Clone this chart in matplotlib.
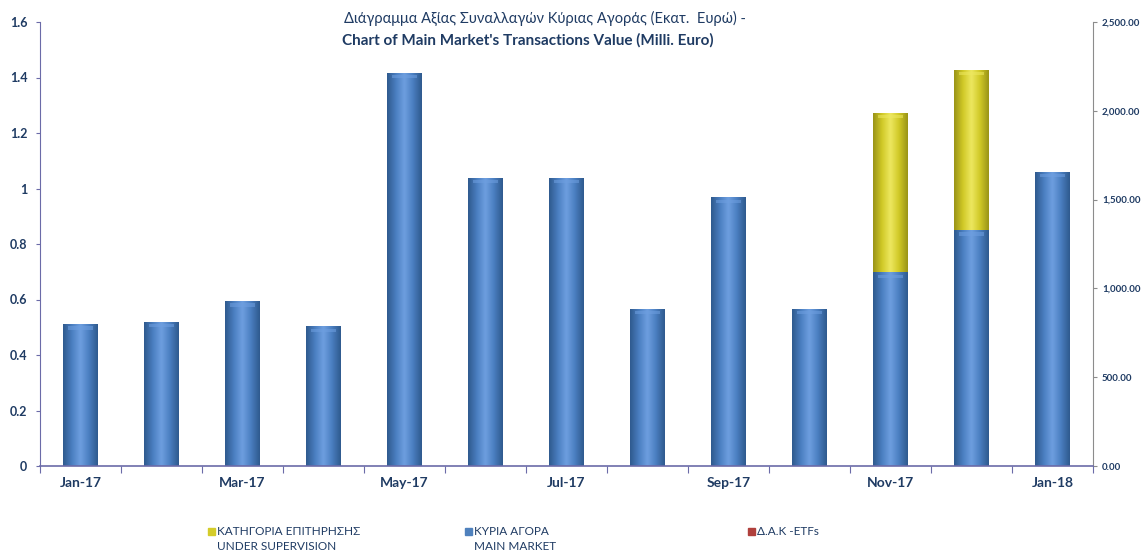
import matplotlib
matplotlib.use("Agg")
import matplotlib.pyplot as plt
import numpy as np
from matplotlib.patches import Rectangle
from matplotlib.ticker import FuncFormatter, FixedLocator
from matplotlib.colors import LinearSegmentedColormap
from matplotlib import font_manager

# ---------------- data ----------------
months = ["Jan-17", "Feb-17", "Mar-17", "Apr-17", "May-17", "Jun-17", "Jul-17",
          "Aug-17", "Sep-17", "Oct-17", "Nov-17", "Dec-17", "Jan-18"]
main_market = [798, 812, 927, 786, 2212, 1623, 1623, 884, 1512, 884, 1090, 1327, 1657]
under_supervision = [0, 0, 0, 0, 0, 0, 0, 0, 0, 0, 900, 903, 0]
etfs = [0, 0, 0, 0, 0, 0, 0, 0, 0, 0, 0, 0, 0]
left_ticks = [0, 0.2, 0.4, 0.6, 0.8, 1.0, 1.2, 1.4, 1.6]
left_labels = ["0", "0.2", "0.4", "0.6", "0.8", "1", "1.2", "1.4", "1.6"]
right_ticks = [0, 500, 1000, 1500, 2000, 2500]

title_lines = ["Διάγραμμα Αξίας Συναλλαγών Κύριας Αγοράς (Εκατ.  Ευρώ) -",
               "Chart of Main Market's Transactions Value (Milli. Euro)"]
legend_line1 = ["ΚΑΤΗΓΟΡΙΑ ΕΠΙΤΗΡΗΣΗΣ", "ΚΥΡΙΑ ΑΓΟΡΑ", "Δ.Α.Κ -ETFs"]
legend_line2 = ["UNDER SUPERVISION", "MAIN MARKET", ""]

# ---------------- style ----------------
names = {f.name for f in font_manager.fontManager.ttflist}
fam = "Lato" if "Lato" in names else "Liberation Sans"
plt.rcParams["font.family"] = [fam, "DejaVu Sans"]
txt_col = "#1F3B63"
blue = "#4F81BD"
yellow = "#D4CC2A"
red = "#B0403C"

fig = plt.figure(figsize=(11.46, 5.54), dpi=100)
ax = fig.add_axes([40/1146, 88/554, (1093-40)/1146, (466-22)/554])
ax2 = ax.twinx()

x = np.arange(len(months))
ax.set_ylim(0, 1.6)
ax.set_xlim(-0.5, len(months) - 0.5)

w = 0.43
b1 = ax2.bar(x, main_market, width=w, color=blue, zorder=2)
b2 = ax2.bar(x, under_supervision, width=w, bottom=main_market, color=yellow, zorder=2)
b3 = ax2.bar(x, etfs, width=w, bottom=np.array(main_market) + np.array(under_supervision),
             color=red, zorder=2)

# cylinder-like shading via gradient clipped to each bar patch
def shade(container, dark, mid, light):
    cmap = LinearSegmentedColormap.from_list("c", [dark, mid, light, mid, dark])
    grad = np.linspace(0, 1, 64).reshape(1, -1)
    for p in container.patches:
        h = p.get_height()
        if h <= 0:
            continue
        x0, y0, ww = p.get_x(), p.get_y(), p.get_width()
        im = ax2.imshow(grad, cmap=cmap, aspect="auto",
                        extent=[x0, x0 + ww, y0, y0 + h], zorder=3,
                        interpolation="bicubic")
        im.set_clip_path(p)
        ax2.add_patch(Rectangle((x0 + ww * 0.15, y0 + h - 30), ww * 0.7, 18,
                                color=light, alpha=0.55, zorder=4, lw=0))

shade(b1, "#2F5A8E", "#4A7EC0", "#6E9FE0")
shade(b2, "#9A9418", "#D0C826", "#EDE860")
ax2.set_xlim(-0.5, len(months) - 0.5)
ax2.set_ylim(0, 2500)

# left axis
ax.set_yticks(left_ticks)
ax.set_yticklabels(left_labels)
ax.tick_params(axis="y", colors="#6B6BA8", labelcolor=txt_col, labelsize=9, length=3,
               direction="out", pad=6)
for t in ax.get_yticklabels():
    t.set_fontweight("bold")

# x axis: ticks at category boundaries, labels every other month
ax.xaxis.set_major_locator(FixedLocator(np.arange(-0.5, len(months), 1.0)))
ax.set_xticklabels([])
ax.tick_params(axis="x", colors="#6B6BA8", length=5, direction="out")
ax.xaxis.set_minor_locator(FixedLocator(x[::2]))
ax.set_xticklabels([m for m in months[::2]], minor=True)
ax.tick_params(axis="x", which="minor", length=0, labelcolor=txt_col, labelsize=10, pad=8)
for t in ax.get_xticklabels(minor=True):
    t.set_fontweight("bold")

for s in ["top", "right"]:
    ax.spines[s].set_visible(False)
    ax2.spines[s].set_visible(False)
ax.spines["left"].set_color("#6B6BA8")
ax.spines["bottom"].set_color("#6B6BA8")
ax.spines["bottom"].set_linewidth(1.2)
ax2.spines["left"].set_visible(False)
ax2.spines["bottom"].set_visible(False)
ax2.spines["right"].set_visible(True)
ax2.spines["right"].set_color("#8C8C8C")

ax2.set_yticks(right_ticks)
ax2.yaxis.set_major_formatter(FuncFormatter(lambda v, p: f"{v:,.2f}"))
ax2.tick_params(axis="y", colors="#8C8C8C", labelcolor=txt_col, labelsize=7, length=3)
for t in ax2.get_yticklabels():
    t.set_fontweight("bold")

ax.set_zorder(ax2.get_zorder() + 1)
ax.patch.set_visible(False)

# title
fig.text(545/1146, 1 - 18/554, title_lines[0], ha="center", va="center",
         fontsize=10.5, color=txt_col)
fig.text(528/1146, 1 - 40/554, title_lines[1], ha="center", va="center",
         fontsize=11, color=txt_col, fontweight="bold")

# legend (manual, like the spreadsheet legend)
leg_cols = [yellow, blue, red]
leg_x = [208, 465, 748]
for lx, col, l1, l2 in zip(leg_x, leg_cols, legend_line1, legend_line2):
    fig.patches.append(Rectangle((lx/1146, 1 - 535/554), 7/1146, 7/554,
                                 transform=fig.transFigure, color=col, figure=fig))
    fig.text((lx + 9)/1146, 1 - 531.5/554, l1, ha="left", va="center", fontsize=8.5,
             color=txt_col)
    if l2:
        fig.text((lx + 9)/1146, 1 - 547/554, l2, ha="left", va="center", fontsize=8.5,
                 color=txt_col)

fig.savefig("out.png", dpi=100)
